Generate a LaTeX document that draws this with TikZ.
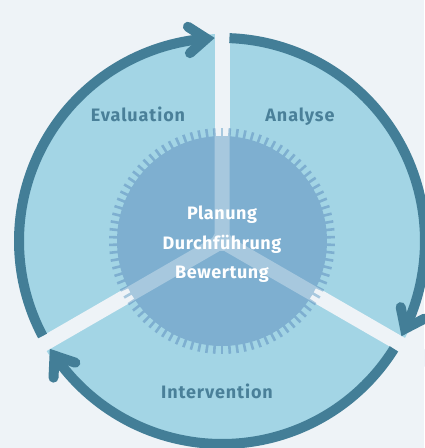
\documentclass[tikz,border=0pt]{standalone}
\usepackage{fontspec}
\setmainfont{Fira Sans}
\newfontfamily\lblfont[LetterSpace=5]{Fira Sans}
\newfontfamily\ctrfont[LetterSpace=3]{Fira Sans}
\usetikzlibrary{calc}
\definecolor{bg}{HTML}{EEF3F7}
\definecolor{lblue}{HTML}{A3D5E5}
\definecolor{iblue}{HTML}{7EAFD0}
\definecolor{dteal}{HTML}{437E97}
\definecolor{lteal}{HTML}{4A8099}
\begin{document}
\begin{tikzpicture}[x=1pt,y=1pt,
  arcline/.style={line width=10pt, draw=dteal, line cap=butt},
  headline/.style={line width=10pt, draw=dteal, line cap=round, line join=miter},
  chev/.pic={\draw[headline] (127:22) -- (0,0) -- (53:22);},
  lbl/.style={text=lteal, font=\lblfont\fontsize{18}{18}\selectfont\bfseries, anchor=base},
  ctext/.style={text=white, font=\ctrfont\fontsize{18}{18}\selectfont\bfseries, anchor=base}]
\useasboundingbox (0,0) rectangle (424,448);
\fill[bg] (0,0) rectangle (424,448);
\coordinate (C) at (222,207);
\begin{scope}[shift={(C)}]
  % outer disk
  \fill[lblue] (0,0) circle (207);
  % opaque spokes
  \foreach \a in {90,210,330}{
    \fill[bg] ($(\a+90:7.5)$) -- ($(\a:240)+(\a+90:7.5)$) -- ($(\a:240)+(\a-90:7.5)$) -- ($(\a-90:7.5)$) -- cycle;
  }
  % inner disk with ticks
  \fill[iblue] (0,0) circle (105);
  \foreach \i in {0,...,89}{
    \draw[iblue, line width=2.6pt] (\i*4+2:104) -- (\i*4+2:113);
  }
  % translucent spokes inside inner disk
  \begin{scope}
    \clip (0,0) circle (113.5);
    \fill[bg, opacity=0.37]
      \foreach \a in {90,210,330}{
        ($(\a+90:7.5)+(\a:-10)$) -- ($(\a:240)+(\a+90:7.5)$) -- ($(\a:240)+(\a-90:7.5)$) -- ($(\a-90:7.5)+(\a:-10)$) -- cycle
      };
  \end{scope}
  % arcs
  \draw[arcline] (87.9:203) arc[start angle=87.9, end angle=-25.6, radius=203];
  \pic[rotate=-25.6] at (-25.6:203) {chev};
  \draw[arcline] (-32.1:203) arc[start angle=-32.1, end angle=-145.6, radius=203];
  \pic[rotate=-145.6] at (-145.6:203) {chev};
  \draw[arcline] (207.9:203) arc[start angle=207.9, end angle=94.4, radius=203];
  \pic[rotate=94.4] at (94.4:203) {chev};
\end{scope}
% labels
\node[lbl] (eval) at (138,326) {Evaluation};
\node[lbl] (anal) at (300,326) {Analyse};
\node[lbl] (inter) at (217,49.7) {Intervention};
\node[ctext] (plan) at (222,228) {Planung};
\node[ctext] (durch) at (222,198.5) {Durchführung};
\node[ctext] (bew) at (222,169) {Bewertung};
\end{tikzpicture}
\end{document}
